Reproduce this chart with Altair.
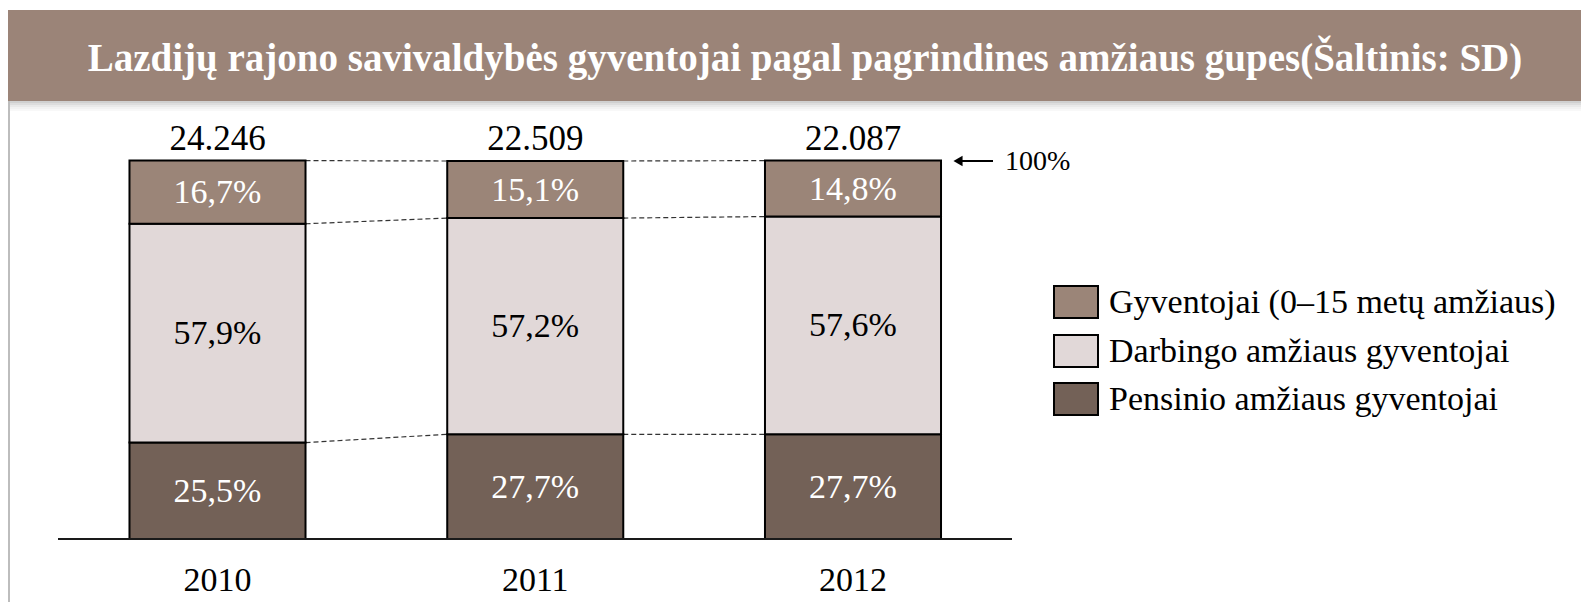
import altair as alt
import pandas as pd

# ---------------- data ----------------
years = [2010, 2011, 2012]
totals = [24246, 22509, 22087]
young = [16.7, 15.1, 14.8]      # Gyventojai (0–15 metų amžiaus)
working = [57.9, 57.2, 57.6]    # Darbingo amžiaus gyventojai
pension = [25.5, 27.7, 27.7]    # Pensinio amžiaus gyventojai
groups = ["Gyventojai (0–15 metų amžiaus)", "Darbingo amžiaus gyventojai", "Pensinio amžiaus gyventojai"]
group_colors = ["#9B8578", "#E1D8D8", "#736157"]
label_colors = ["white", "black", "white"]
title_text = "Lazdijų rajono savivaldybės gyventojai pagal pagrindines amžiaus gupes(Šaltinis: SD)"

# ---------------- layout ----------------
W, H = 1573, 594
FONT = "Liberation Serif"
HALF = 0.277  # half bar width, in years

xs = alt.Scale(domain=[2010, 2012], range=[209.5, 845], nice=False, zero=False)
ys = alt.Scale(domain=[0, 100], range=[531, 153], nice=False, zero=False)

# stacked segments (bottom to top: pension, working, young)
seg_rows = []
bounds = {}
for i, yr in enumerate(years):
    base = 0.0
    blist = []
    for gi in [2, 1, 0]:
        v = [young, working, pension][gi][i]
        seg_rows.append(dict(
            year=yr, x0=yr - HALF, x1=yr + HALF, start=base, end=base + v,
            mid=base + v / 2, label=f"{v:.1f}".replace(".", ",") + "%",
            fill=group_colors[gi], lcol=label_colors[gi]))
        base += v
        blist.append(base)
    bounds[yr] = blist
seg = pd.DataFrame(seg_rows)

tot = pd.DataFrame(dict(year=years, top=[100] * 3,
                        label=[f"{t:,}".replace(",", ".") for t in totals]))
yl = pd.DataFrame(dict(year=years, base=[0] * 3, label=[str(y) for y in years]))

con_rows = []
for a, b in zip(years[:-1], years[1:]):
    for k in range(3):
        con_rows.append(dict(xa=a + HALF, xb=b - HALF, ya=bounds[a][k], yb=bounds[b][k]))
con = pd.DataFrame(con_rows)

one = pd.DataFrame(dict(v=[0]))

X = lambda f: alt.X(f, scale=xs, axis=None)
Y = lambda f: alt.Y(f, scale=ys, axis=None)

# title band + shadow + left border line
band = alt.Chart(one).mark_rect(color="#9B8478").encode(
    x=alt.value(0), x2=alt.value(W), y=alt.value(2), y2=alt.value(93))
shadows = []
for k, op in enumerate([0.28, 0.2, 0.13, 0.08, 0.04]):
    shadows.append(alt.Chart(one).mark_rect(color="#555555", opacity=op).encode(
        x=alt.value(2), x2=alt.value(W), y=alt.value(93 + 2 * k), y2=alt.value(95 + 2 * k)))
left_line = alt.Chart(one).mark_rule(color="#BDBDBD", strokeWidth=2).encode(
    x=alt.value(1), y=alt.value(93), y2=alt.value(H))
title = alt.Chart(one).mark_text(
    text=title_text, font=FONT, fontSize=39, fontWeight="bold", color="white",
    align="center", baseline="middle").encode(x=alt.value(797), y=alt.value(51))

# bars
bars = alt.Chart(seg).mark_rect(stroke="black", strokeWidth=2).encode(
    x=X("x0:Q"), x2="x1:Q", y=Y("start:Q"), y2="end:Q",
    fill=alt.Fill("fill:N", scale=None))
seg_labels = alt.Chart(seg).mark_text(font=FONT, fontSize=34, baseline="middle", dy=1).encode(
    x=X("year:Q"), y=Y("mid:Q"), text="label:N", color=alt.Color("lcol:N", scale=None))

connectors = alt.Chart(con).mark_rule(color="#333333", strokeWidth=1.2, strokeDash=[5, 3]).encode(
    x=X("xa:Q"), x2="xb:Q", y=Y("ya:Q"), y2="yb:Q")

tot_labels = alt.Chart(tot).mark_text(font=FONT, fontSize=35, baseline="middle", dy=-22, color="black").encode(
    x=X("year:Q"), y=Y("top:Q"), text="label:N")
year_labels = alt.Chart(yl).mark_text(font=FONT, fontSize=34, baseline="middle", dy=42, color="black").encode(
    x=X("year:Q"), y=Y("base:Q"), text="label:N")

axis_line = alt.Chart(one).mark_rule(color="#1a1a1a", strokeWidth=2).encode(
    x=alt.value(50), x2=alt.value(1004), y=alt.Y("datum0:Q", scale=ys, axis=None)
).transform_calculate(datum0="0")

# 100% arrow
arrow_df = pd.DataFrame(dict(level=[100]))
arrow_line = alt.Chart(arrow_df).mark_rule(color="black", strokeWidth=2).encode(
    x=alt.value(950), x2=alt.value(985), y=Y("level:Q"))
arrow_head = alt.Chart(arrow_df).mark_point(shape="triangle-left", filled=True, color="black",
                                            size=110, opacity=1).encode(
    x=alt.value(950), y=Y("level:Q"))
arrow_text = alt.Chart(arrow_df).mark_text(text="100%", font=FONT, fontSize=28, align="left",
                                           baseline="middle", dy=1, color="black").encode(
    x=alt.value(997), y=Y("level:Q"))

# legend
legend_layers = []
row_y = [294, 343, 391]
for gi, g in enumerate(groups):
    legend_layers.append(alt.Chart(one).mark_rect(fill=group_colors[gi], stroke="black", strokeWidth=2).encode(
        x=alt.value(1046), x2=alt.value(1090), y=alt.value(row_y[gi] - 16), y2=alt.value(row_y[gi] + 16)))
    legend_layers.append(alt.Chart(one).mark_text(text=g, font=FONT, fontSize=34, align="left",
                                                  baseline="middle", dy=1, color="black").encode(
        x=alt.value(1101), y=alt.value(row_y[gi])))

chart = alt.layer(
    band, *shadows, left_line, title,
    connectors, bars, seg_labels, tot_labels, year_labels, axis_line,
    arrow_line, arrow_head, arrow_text, *legend_layers
).properties(
    width=W, height=H, padding=0, background="white",
    autosize=alt.AutoSizeParams(type="none")
).configure_view(stroke=None)

chart.save("out.html", embed_options={"renderer": "svg", "actions": False})
